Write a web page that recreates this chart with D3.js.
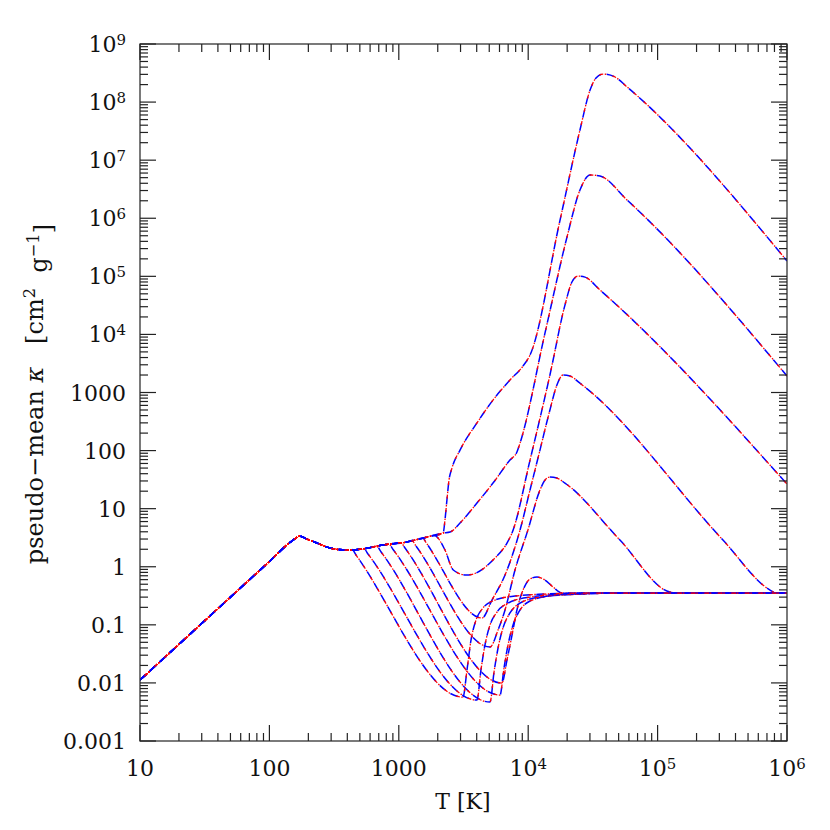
<!DOCTYPE html>
<html><head><meta charset="utf-8">
<script src="https://cdn.jsdelivr.net/npm/d3@7"></script>
<style>body{margin:0;background:#fff}svg{display:block}text{font-family:"DejaVu Serif",serif;fill:#111}</style>
</head><body><svg id="c" width="830" height="830"></svg>
<script>
// ---- data: temperature T [K], pseudo-mean opacity kappa [cm^2/g] ----
const xTickLabels = ["10","100","1000","10^4","10^5","10^6"];
const yTickLabels = ["0.001","0.01","0.1","1","10","100","1000","10^4","10^5","10^6","10^7","10^8","10^9"];
const xTickValues = [1e1,1e2,1e3,1e4,1e5,1e6];
const yTickValues = [1e-3,1e-2,1e-1,1,1e1,1e2,1e3,1e4,1e5,1e6,1e7,1e8,1e9];

// shared low-temperature (dust) branch
const common = [[10,0.0112],[100,1.23],[150,2.8],[172,3.35],[195,3.0],[233,2.57],[294,2.1],[398,1.94],[500,2.0],[755,2.37],[1156,2.67],[1652,3.25],[2200,3.8]];

// density tracks, from highest to lowest density: [departure T, tail points]
const rho1 = [2200,[[2200,3.8],[2275,6.4],[2355,14.1],[2443,31],[2576,50],[2972,102],[4018,299],[5346,741],[7228,1641],[9120,2858],[10330,4416],[17620,9.3e5],[25120,3.3e7],[30060,1.61e8],[33420,2.6e8],[37840,3.04e8],[46880,2.7e8],[58080,1.82e8],[1e6,1.84e5]]];
const rho2 = [2200,[[2200,3.8],[2489,3.96],[2972,5.66],[4018,12.5],[5346,27.6],[7228,68.7],[8185,94.4],[8650,135],[13490,1.06e4],[19950,4.75e5],[25120,3.06e6],[30060,5.55e6],[35890,5.33e6],[58080,2.06e6],[1e6,1923]]];
const rho3 = [1870,[[1870,3.47],[2275,1.94],[2636,0.88],[3311,0.72],[3954,0.78],[5346,1.31],[6855,2.56],[7499,3.81],[10330,68.7],[14720,2000],[19230,3.2e4],[21780,7.98e4],[24270,1.01e5],[27480,9.7e4],[35890,5.81e4],[1e6,26.5]]];
const rho4 = [1538,[[1538,3.09],[1620,2.63],[4395,0.131],[5248,0.267],[6622,0.72],[8650,4.3],[10330,21],[12330,102],[14720,501],[16670,1349],[18580,2000],[21040,1923],[25120,1445],[320000,2.88],[739600,0.397],[822000,0.352],[1e6,0.352]]];
const rho5 = [1265,[[1265,2.82],[1350,2.32],[5070,0.0415],[5848,0.0815],[6622,0.18],[7907,0.879],[9954,4.3],[12330,20.9],[13490,31.1],[14720,35.1],[16670,33.7],[19230,27.6],[51170,2.88],[124700,0.367],[149000,0.352],[1e6,0.352]]];
const rho6 = [1040,[[1040,2.6],[1110,2.14],[6266,0.00995],[6855,0.0248],[7499,0.0667],[8185,0.18],[9120,0.397],[10330,0.615],[11700,0.665],[13490,0.59],[15560,0.448],[18240,0.352],[1e6,0.352]]];
const rho7 = [839,[[839,2.45],[900,2.0],[6053,0.00618],[6501,0.018],[6982,0.0449],[7638,0.0993],[8650,0.18],[10330,0.257],[14720,0.313],[27480,0.339],[50000,0.352],[1e6,0.352]]];
const rho8 = [679,[[679,2.21],[730,1.79],[5070,0.00468],[5445,0.0154],[5848,0.0399],[6383,0.0881],[7228,0.16],[8650,0.237],[12330,0.301],[23010,0.339],[45000,0.352],[1e6,0.352]]];
const rho9 = [538,[[538,2.04],[580,1.64],[4018,0.00507],[4315,0.0167],[4634,0.0449],[5070,0.0993],[5741,0.166],[6982,0.237],[10330,0.301],[19230,0.339],[37000,0.352],[1e6,0.352]]];
const rho10 = [435,[[435,1.98],[470,1.56],[3133,0.0057],[3365,0.0167],[3614,0.0547],[3954,0.121],[4477,0.195],[5534,0.267],[7907,0.313],[13490,0.339],[25120,0.352],[1e6,0.352]]];
const tracks = [rho1,rho2,rho3,rho4,rho5,rho6,rho7,rho8,rho9,rho10];

// ---- drawing ----
const L=140,R=787,T=44,B=741;
const svg=d3.select("#c");
const x=d3.scaleLog().domain([10,1e6]).range([L,R]);
const y=d3.scaleLog().domain([1e-3,1e9]).range([B,T]);

svg.append("defs").append("clipPath").attr("id","clip").append("rect").attr("x",L).attr("y",T).attr("width",R-L).attr("height",B-T);

const line=d3.line().x(d=>x(d[0])).y(d=>y(d[1])).curve(d3.curveMonotoneX);
const g=svg.append("g").attr("clip-path","url(#clip)");
tracks.forEach(([td,tail])=>{
  const pts=common.filter(p=>p[0]<td).concat(tail);
  g.append("path").attr("d",line(pts)).attr("fill","none").attr("stroke","#0000ff").attr("stroke-width",1.5).attr("stroke-dasharray","8,5.5");
  g.append("path").attr("d",line(pts)).attr("fill","none").attr("stroke","#ff0000").attr("stroke-width",1.3).attr("stroke-dasharray","4,1.5,1.5,6.5").attr("stroke-dashoffset",-6);
});

// frame
svg.append("rect").attr("x",L).attr("y",T).attr("width",R-L).attr("height",B-T).attr("fill","none").attr("stroke","#333").attr("stroke-width",1.3);

// ticks on all sides (inward)
const ax=svg.append("g").attr("stroke","#222").attr("stroke-width",1.2);
function minorsOf(vals){const m=[];for(let i=0;i<vals.length-1;i++)for(let k=2;k<=9;k++)m.push(vals[i]*k);return m;}
const MJ=16,MN=8;
xTickValues.forEach(v=>{const p=x(v);ax.append("line").attr("x1",p).attr("x2",p).attr("y1",B).attr("y2",B-MJ);ax.append("line").attr("x1",p).attr("x2",p).attr("y1",T).attr("y2",T+MJ);});
minorsOf(xTickValues).forEach(v=>{const p=x(v);ax.append("line").attr("x1",p).attr("x2",p).attr("y1",B).attr("y2",B-MN);ax.append("line").attr("x1",p).attr("x2",p).attr("y1",T).attr("y2",T+MN);});
yTickValues.forEach(v=>{const p=y(v);ax.append("line").attr("y1",p).attr("y2",p).attr("x1",L).attr("x2",L+MJ);ax.append("line").attr("y1",p).attr("y2",p).attr("x1",R).attr("x2",R-MJ);});
minorsOf(yTickValues).forEach(v=>{const p=y(v);ax.append("line").attr("y1",p).attr("y2",p).attr("x1",L).attr("x2",L+MN);ax.append("line").attr("y1",p).attr("y2",p).attr("x1",R).attr("x2",R-MN);});

function label(sel,s){
  if(s.includes("^")){const [b,e]=s.split("^");sel.append("tspan").text(b);sel.append("tspan").attr("font-size","0.68em").attr("dy","-0.5em").text(e);}
  else sel.text(s);
}
const FS=22;
xTickValues.forEach((v,i)=>{const t=svg.append("text").attr("x",x(v)).attr("y",776).attr("text-anchor","middle").attr("font-size",FS);label(t,xTickLabels[i]);});
yTickValues.forEach((v,i)=>{const t=svg.append("text").attr("x",126).attr("y",y(v)+8).attr("text-anchor","end").attr("font-size",FS);label(t,yTickLabels[i]);});

svg.append("text").attr("x",463).attr("y",809).attr("text-anchor","middle").attr("font-size",FS).text("T [K]");
const yl=svg.append("text").attr("transform","translate(43,394) rotate(-90)").attr("text-anchor","middle").attr("font-size",24);
yl.append("tspan").text("pseudo\u2212mean ");
yl.append("tspan").attr("font-style","italic").text("\u03ba");
yl.append("tspan").text("\u00a0\u00a0 [cm");
yl.append("tspan").attr("font-size","0.68em").attr("dy","-0.5em").text("2");
yl.append("tspan").attr("dy","0.5em").text("\u00a0 g");
yl.append("tspan").attr("font-size","0.68em").attr("dy","-0.5em").text("\u22121");
yl.append("tspan").attr("dy","0.5em").text("]");
</script></body></html>
